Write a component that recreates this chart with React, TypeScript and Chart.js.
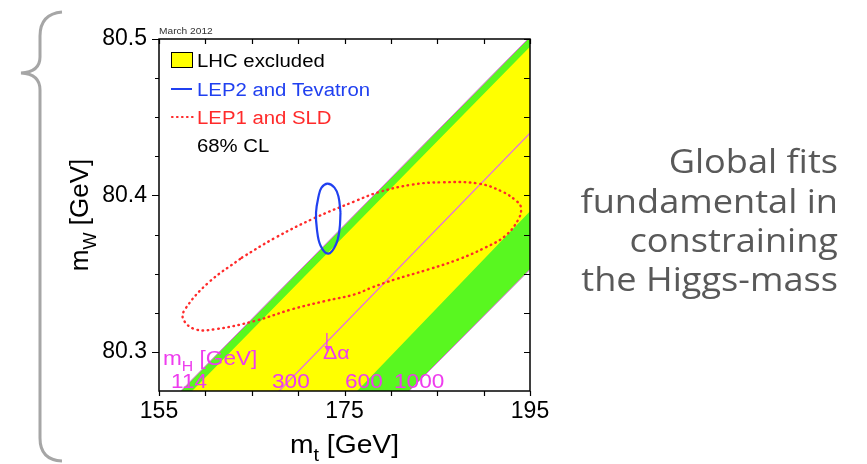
import React, { useEffect, useRef } from 'react';
import { Chart, registerables } from 'chart.js';

Chart.register(...registerables);

// ---- axes ----
const xTicks = [155, 160, 165, 170, 175, 180, 185, 190, 195];
const xTickLabels = [155, 175, 195];
const yTicks = [80.3, 80.325, 80.35, 80.375, 80.4, 80.425, 80.45, 80.475, 80.5];
const yTickLabels = [80.3, 80.4, 80.5];

// ---- SM bands: lines of constant mH (mt [GeV], mW [GeV]) ----
const mH114 = [[156.52, 80.27], [196.44, 80.51]];
const mH127 = [[157.74, 80.27], [197.47, 80.51]];
const mH300 = [[167.13, 80.27], [206.51, 80.51]];
const mH600 = [[175.55, 80.27], [214.48, 80.51]];
const mH1000 = [[181.13, 80.27], [221.39, 80.51]];
const mHLabels = ['114', '300', '600', '1000'];

// ---- 68% CL contours ----
const lep2Tevatron = [
  [174.57, 80.3891], [174.46, 80.3782], [174.08, 80.3687], [173.25, 80.3628],
  [172.41, 80.368], [172.03, 80.3782], [171.93, 80.3891], [172.2, 80.3993],
  [172.52, 80.405], [173.17, 80.4076], [173.92, 80.405], [174.35, 80.3993],
  [174.57, 80.3891],
];
const lep1Sld = [
  [163.92, 80.3602], [167.51, 80.3729], [171.82, 80.3857], [176.13, 80.3963],
  [178.64, 80.402], [182.25, 80.4069], [185.48, 80.4084], [189.43, 80.4076],
  [191.95, 80.4026], [193.57, 80.3963], [194.03, 80.3921], [193.74, 80.3846],
  [192.3, 80.374], [190.15, 80.3666], [187.27, 80.3591], [184.04, 80.3527],
  [180.44, 80.3463], [177.93, 80.3411], [176.13, 80.3368], [172.9, 80.3325],
  [169.31, 80.3272], [165.35, 80.3198], [161.04, 80.3145], [158.88, 80.3145],
  [157.62, 80.3208], [157.8, 80.3272], [160.32, 80.3442], [163.92, 80.3602],
];

const legendLabels = ['LHC excluded', 'LEP2 and Tevatron', 'LEP1 and SLD', '68% CL'];
const sideText = ['Global fits', 'fundamental in', 'constraining', 'the Higgs-mass'];

const FONT = "'Liberation Sans', Arial, Helvetica, sans-serif";
const YELLOW = '#ffff00';
const GREEN = '#59f720';
const MAGENTA = '#dd66dd';
const LINE300 = '#e46ee4';
const LABEL_MAGENTA = '#ee3cee';
const BLUE = '#2040f0';
const RED = '#ff2a2a';
const S = 1.13; // horizontal stretch of the source picture

const pts = (arr: number[][]) => arr.map(([x, y]) => ({ x, y }));

function txt(ctx: CanvasRenderingContext2D, s: string, x: number, y: number, font: string, color: string, align = 'left', sx = S) {
  ctx.font = font;
  ctx.fillStyle = color;
  ctx.textBaseline = 'alphabetic';
  ctx.textAlign = 'left';
  const w = ctx.measureText(s).width * sx;
  const x0 = align === 'right' ? x - w : align === 'center' ? x - w / 2 : x;
  ctx.save();
  ctx.translate(x0, y);
  ctx.scale(sx, 1);
  ctx.fillText(s, 0, 0);
  ctx.restore();
  return w;
}

function rich(ctx: CanvasRenderingContext2D, parts: { t: string; sub?: boolean }[], x: number, y: number, size: number, color: string, align: string, sx: number) {
  const font = (sz: number) => `${sz}px ${FONT}`;
  let total = 0;
  for (const p of parts) {
    ctx.font = font(p.sub ? size * 0.7 : size);
    total += ctx.measureText(p.t).width * sx;
  }
  let cx = align === 'center' ? x - total / 2 : x;
  for (const p of parts) {
    const sz = p.sub ? size * 0.7 : size;
    cx += txt(ctx, p.t, cx, y + (p.sub ? size * 0.3 : 0), font(sz), color, 'left', sx);
  }
}

const decor = {
  id: 'decor',
  afterDraw(chart: any) {
    const { ctx, chartArea: a, scales } = chart;
    const xs = scales.x;
    const ys = scales.y;
    ctx.save();

    // frame
    ctx.strokeStyle = '#000';
    ctx.lineWidth = 1.5;
    ctx.strokeRect(a.left, a.top, a.right - a.left, a.bottom - a.top);

    // ticks
    ctx.lineWidth = 1.2;
    ctx.beginPath();
    for (const v of xTicks) {
      const px = Math.round(xs.getPixelForValue(v)) + 0.5;
      ctx.moveTo(px, a.bottom);
      ctx.lineTo(px, a.bottom + 5);
      ctx.moveTo(px, a.top);
      ctx.lineTo(px, a.top + 5);
    }
    for (const v of yTicks) {
      const py = Math.round(ys.getPixelForValue(v)) + 0.5;
      const major = yTickLabels.some((t) => Math.abs(t - v) < 1e-9);
      ctx.moveTo(a.left, py);
      ctx.lineTo(a.left - (major ? 7 : 4), py);
      ctx.moveTo(a.right, py);
      ctx.lineTo(a.right - 6, py);
    }
    ctx.stroke();

    // axis titles
    rich(ctx, [{ t: 'm' }, { t: 't', sub: true }, { t: ' [GeV]' }], (a.left + a.right) / 2, 453, 25, '#000', 'center', S);
    ctx.save();
    ctx.translate(88, 215);
    ctx.rotate(-Math.PI / 2);
    rich(ctx, [{ t: 'm' }, { t: 'W', sub: true }, { t: ' [GeV]' }], 0, 0, 26, '#000', 'center', 1);
    ctx.restore();

    // legend
    const lx = a.left + 12;
    const tx = a.left + 38;
    ctx.fillStyle = YELLOW;
    ctx.fillRect(lx, a.top + 13, 21, 15);
    ctx.strokeStyle = '#000';
    ctx.lineWidth = 1;
    ctx.strokeRect(lx + 0.5, a.top + 13.5, 21, 15);
    ctx.strokeStyle = BLUE;
    ctx.lineWidth = 2;
    ctx.beginPath();
    ctx.moveTo(lx, a.top + 50);
    ctx.lineTo(lx + 21, a.top + 50);
    ctx.stroke();
    ctx.strokeStyle = RED;
    ctx.lineWidth = 2.2;
    ctx.lineCap = 'round';
    ctx.setLineDash([0.6, 4.4]);
    ctx.beginPath();
    ctx.moveTo(lx + 1, a.top + 78);
    ctx.lineTo(lx + 22, a.top + 78);
    ctx.stroke();
    ctx.setLineDash([]);
    ctx.lineCap = 'butt';
    const lf = `18px ${FONT}`;
    txt(ctx, legendLabels[0], tx, a.top + 28, lf, '#000');
    txt(ctx, legendLabels[1], tx, a.top + 56.5, lf, BLUE);
    txt(ctx, legendLabels[2], tx, a.top + 84.5, lf, RED);
    txt(ctx, legendLabels[3], tx, a.top + 113, lf, '#000');

    // mH annotations
    rich(ctx, [{ t: 'm' }, { t: 'H', sub: true }, { t: ' [GeV]' }], a.left + 4, a.bottom - 26, 20, LABEL_MAGENTA, 'left', S);
    const mf = `20px ${FONT}`;
    const lpos = [12, 113, 186, 235];
    mHLabels.forEach((s, i) => txt(ctx, s, a.left + lpos[i], a.bottom - 3, mf, LABEL_MAGENTA));
    txt(ctx, 'Δα', a.left + 164, a.bottom - 32, `19px ${FONT}`, LABEL_MAGENTA);
    const ax = xs.getPixelForValue(173.1);
    const y0 = ys.getPixelForValue(80.312);
    const y1 = ys.getPixelForValue(80.3005);
    ctx.strokeStyle = LABEL_MAGENTA;
    ctx.fillStyle = LABEL_MAGENTA;
    ctx.lineWidth = 1.3;
    ctx.beginPath();
    ctx.moveTo(ax, y0);
    ctx.lineTo(ax, y1 - 3);
    ctx.stroke();
    ctx.beginPath();
    ctx.moveTo(ax - 2.5, y1 - 5);
    ctx.lineTo(ax + 2.5, y1 - 5);
    ctx.lineTo(ax, y1);
    ctx.closePath();
    ctx.fill();

    // date stamp
    txt(ctx, 'March 2012', a.left, a.top - 5, `9px ${FONT}`, '#333');

    // side text
    const sb = [173, 213, 252, 291];
    sideText.forEach((s, i) => txt(ctx, s, 838, sb[i], `32px 'Open Sans', 'Noto Sans', sans-serif`, '#595959', 'right'));

    // brace
    ctx.strokeStyle = '#a6a6a6';
    ctx.lineWidth = 3;
    ctx.beginPath();
    ctx.moveTo(62, 12);
    ctx.quadraticCurveTo(40, 14, 40, 36);
    ctx.lineTo(40, 57);
    ctx.quadraticCurveTo(40, 72, 21, 73);
    ctx.quadraticCurveTo(40, 74, 40, 90);
    ctx.lineTo(40, 438);
    ctx.quadraticCurveTo(40, 460, 62, 461);
    ctx.stroke();

    ctx.restore();
  },
};

const bandLine = (data: number[][], fillColor: string, border: string, order: number) => ({
  data: pts(data),
  showLine: true,
  pointRadius: 0,
  borderWidth: 1,
  borderColor: border,
  backgroundColor: fillColor,
  fill: 'start',
  order,
});

export default function App() {
  const ref = useRef<HTMLCanvasElement>(null);
  useEffect(() => {
    const chart = new Chart(ref.current as HTMLCanvasElement, {
      type: 'scatter',
      data: {
        datasets: [
          {
            data: pts(lep2Tevatron),
            showLine: true,
            pointRadius: 0,
            borderColor: BLUE,
            borderWidth: 2.2,
            tension: 0.4,
            fill: false,
            order: 0,
          },
          {
            data: pts(lep1Sld),
            showLine: true,
            pointRadius: 0,
            borderColor: RED,
            borderWidth: 2.4,
            borderDash: [0.6, 4.6],
            borderCapStyle: 'round',
            tension: 0.4,
            fill: false,
            order: 1,
          },
          {
            data: pts(mH300),
            showLine: true,
            pointRadius: 0,
            borderColor: LINE300,
            borderWidth: 1.3,
            fill: false,
            order: 2,
          },
          bandLine(mH1000, '#ffffff', MAGENTA, 3),
          bandLine(mH600, GREEN, 'rgba(0,0,0,0)', 4),
          bandLine(mH127, YELLOW, 'rgba(0,0,0,0)', 5),
          bandLine(mH114, GREEN, MAGENTA, 6),
        ] as any,
      },
      options: {
        responsive: false,
        animation: false,
        devicePixelRatio: 1,
        events: [],
        layout: { padding: { left: 0, top: 39, right: 337, bottom: 0 } },
        plugins: { legend: { display: false }, tooltip: { enabled: false } },
        scales: {
          x: {
            type: 'linear',
            position: 'bottom',
            min: 155,
            max: 195,
            grid: { display: false, drawTicks: false },
            border: { display: false },
            ticks: {
              padding: 7,
              color: '#000',
              autoSkip: false,
              maxRotation: 0,
              font: { family: FONT, size: 23 },
              callback: (v: any) => String(v),
            },
            afterBuildTicks: (axis: any) => {
              axis.ticks = xTickLabels.map((v) => ({ value: v }));
            },
            afterFit: (axis: any) => {
              axis.height = 73;
            },
          },
          y: {
            type: 'linear',
            position: 'left',
            min: 80.275,
            max: 80.5,
            grid: { display: false, drawTicks: false },
            border: { display: false },
            ticks: {
              padding: 12,
              color: '#000',
              autoSkip: false,
              font: { family: FONT, size: 23 },
              callback: (v: any) => Number(v).toFixed(1),
            },
            afterBuildTicks: (axis: any) => {
              axis.ticks = yTickLabels.map((v) => ({ value: v }));
            },
            afterFit: (axis: any) => {
              axis.width = 159;
            },
          },
        },
      } as any,
      plugins: [decor],
    });
    return () => chart.destroy();
  }, []);
  return (
    <div style={{ position: 'absolute', left: 0, top: 0, width: 867, height: 464, background: '#fff' }}>
      <canvas ref={ref} width={867} height={464} style={{ display: 'block' }} />
    </div>
  );
}
